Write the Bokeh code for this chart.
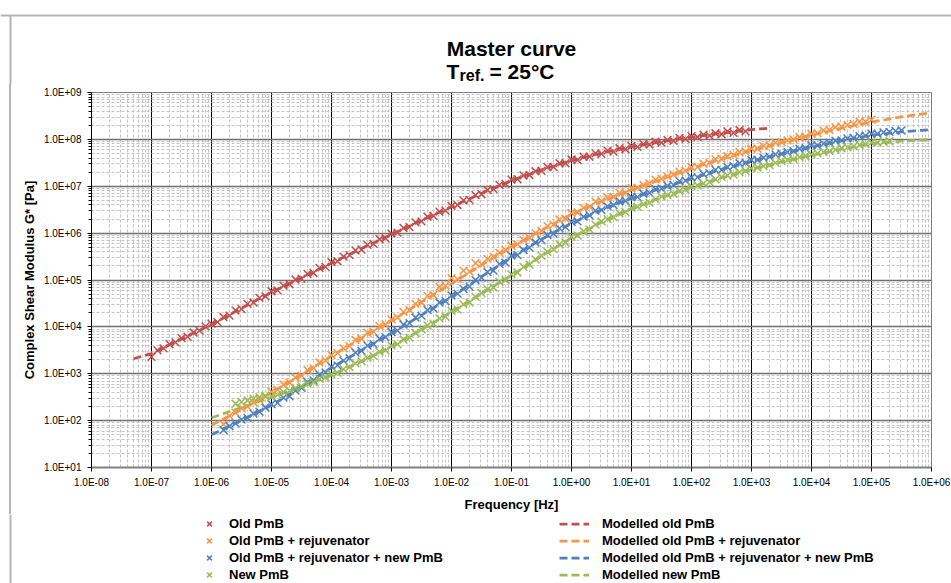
from bokeh.plotting import figure
from bokeh.models import (Range1d, FixedTicker, CustomJSTickFormatter, Legend,
                          LegendItem, Span, Div)
from bokeh.layouts import column, row
from bokeh.core.properties import value
from bokeh.embed import file_html
from bokeh.resources import INLINE

FONT = "Liberation Sans"
TITLE = "Master curve"
SUB_T, SUB_REF, SUB_REST = "T", "ref.", "= 25°C"
X_LABEL = "Frequency [Hz]"
Y_LABEL = "Complex Shear Modulus G* [Pa]"
X_TICK_LABELS = ["1.0E-08", "1.0E-07", "1.0E-06", "1.0E-05", "1.0E-04", "1.0E-03",
                 "1.0E-02", "1.0E-01", "1.0E+00", "1.0E+01", "1.0E+02", "1.0E+03",
                 "1.0E+04", "1.0E+05", "1.0E+06"]
Y_TICK_LABELS = ["1.0E+01", "1.0E+02", "1.0E+03", "1.0E+04", "1.0E+05", "1.0E+06",
                 "1.0E+07", "1.0E+08", "1.0E+09"]
X_EXP0, Y_EXP0 = -8, 1

SERIES_NAMES = ["Old PmB", "Old PmB + rejuvenator", "Old PmB + rejuvenator + new PmB", "New PmB"]
MODEL_NAMES = ["Modelled old PmB", "Modelled old PmB + rejuvenator",
               "Modelled old PmB + rejuvenator + new PmB", "Modelled new PmB"]
COLORS = ["#C0504D", "#F79646", "#4F81BD", "#9BBB59"]

# log10 of frequency [Hz] for measured points
FREQ_LOG = [-7.0, -6.9, -6.8, -6.7, -6.6, -6.5, -6.4, -6.3, -6.2, -6.1,
            -6.0, -5.9, -5.8, -5.7, -5.6, -5.5, -5.4, -5.3, -5.2, -5.1,
            -5.0, -4.9, -4.8, -4.7, -4.6, -4.5, -4.4, -4.3, -4.2, -4.1,
            -4.0, -3.9, -3.8, -3.7, -3.6, -3.5, -3.4, -3.3, -3.2, -3.1,
            -3.0, -2.9, -2.8, -2.7, -2.6, -2.5, -2.4, -2.3, -2.2, -2.1,
            -2.0, -1.9, -1.8, -1.7, -1.6, -1.5, -1.4, -1.3, -1.2, -1.1,
            -1.0, -0.9, -0.8, -0.7, -0.6, -0.5, -0.4, -0.3, -0.2, -0.1,
            0.0, 0.1, 0.2, 0.3, 0.4, 0.5, 0.6, 0.7, 0.8, 0.9,
            1.0, 1.1, 1.2, 1.3, 1.4, 1.5, 1.6, 1.7, 1.8, 1.9,
            2.0, 2.1, 2.2, 2.3, 2.4, 2.5, 2.6, 2.7, 2.8, 2.9,
            3.0, 3.1, 3.2, 3.3, 3.4, 3.5, 3.6, 3.7, 3.8, 3.9,
            4.0, 4.1, 4.2, 4.3, 4.4, 4.5, 4.6, 4.7, 4.8, 4.9,
            5.0, 5.1, 5.2, 5.3, 5.4, 5.5]

# log10 of G* [Pa], measured
OLD_START = -7.0
OLD_G = [3.36, 3.50, 3.54, 3.63, 3.67, 3.76, 3.79, 3.88, 3.92, 4.01,
         4.07, 4.10, 4.21, 4.24, 4.35, 4.38, 4.49, 4.52, 4.62, 4.65,
         4.76, 4.78, 4.88, 4.91, 5.01, 5.03, 5.13, 5.15, 5.26, 5.28,
         5.38, 5.40, 5.50, 5.53, 5.63, 5.65, 5.75, 5.77, 5.87, 5.89,
         5.99, 6.01, 6.11, 6.13, 6.23, 6.25, 6.35, 6.37, 6.46, 6.48,
         6.58, 6.60, 6.70, 6.71, 6.81, 6.83, 6.92, 6.94, 7.03, 7.05,
         7.14, 7.15, 7.23, 7.24, 7.32, 7.33, 7.41, 7.41, 7.49, 7.49,
         7.57, 7.56, 7.63, 7.63, 7.70, 7.69, 7.76, 7.74, 7.81, 7.79,
         7.86, 7.84, 7.90, 7.89, 7.95, 7.93, 7.99, 7.97, 8.03, 8.01,
         8.07, 8.05, 8.10, 8.08, 8.13, 8.11, 8.17, 8.14, 8.20, 8.17]

REJ_START = -5.8
REJ_G = [1.92, 2.10, 2.17, 2.26, 2.30, 2.39, 2.45, 2.52,
         2.62, 2.66, 2.77, 2.81, 2.92, 2.96, 3.08, 3.12, 3.24, 3.28,
         3.40, 3.44, 3.54, 3.59, 3.72, 3.75, 3.87, 3.90, 4.02, 4.05,
         4.16, 4.20, 4.32, 4.36, 4.49, 4.52, 4.66, 4.68, 4.85, 4.88,
         5.04, 5.02, 5.20, 5.18, 5.36, 5.34, 5.45, 5.50, 5.58, 5.64,
         5.73, 5.76, 5.85, 5.90, 6.00, 6.05, 6.15, 6.18, 6.29, 6.31,
         6.43, 6.44, 6.54, 6.56, 6.67, 6.68, 6.76, 6.77, 6.86, 6.86,
         6.96, 6.97, 7.03, 7.06, 7.14, 7.16, 7.21, 7.25, 7.31, 7.33,
         7.41, 7.41, 7.48, 7.50, 7.58, 7.59, 7.64, 7.67, 7.73, 7.74,
         7.80, 7.80, 7.86, 7.87, 7.93, 7.94, 7.98, 8.00, 8.05, 8.06,
         8.12, 8.13, 8.19, 8.20, 8.26, 8.27, 8.31, 8.33, 8.38, 8.38,
         8.42]

MIX_START = -5.8
MIX_G = [1.80, 1.88, 1.94, 2.02, 2.06, 2.15, 2.19, 2.28,
         2.35, 2.38, 2.49, 2.52, 2.64, 2.70, 2.82, 2.86, 2.98, 3.03,
         3.15, 3.18, 3.28, 3.33, 3.45, 3.49, 3.60, 3.63, 3.75, 3.78,
         3.89, 3.92, 4.05, 4.08, 4.20, 4.24, 4.36, 4.39, 4.52, 4.55,
         4.67, 4.71, 4.81, 4.86, 5.00, 5.05, 5.17, 5.20, 5.34, 5.37,
         5.52, 5.53, 5.64, 5.69, 5.80, 5.85, 5.96, 5.99, 6.10, 6.13,
         6.24, 6.25, 6.35, 6.38, 6.48, 6.49, 6.57, 6.60, 6.68, 6.69,
         6.77, 6.77, 6.84, 6.86, 6.94, 6.95, 7.01, 7.03, 7.11, 7.12,
         7.19, 7.19, 7.26, 7.28, 7.35, 7.35, 7.41, 7.43, 7.49, 7.50,
         7.56, 7.56, 7.61, 7.63, 7.68, 7.69, 7.73, 7.75, 7.80, 7.81,
         7.87, 7.87, 7.91, 7.93, 7.97, 7.98, 8.02, 8.03, 8.07, 8.08,
         8.12, 8.12, 8.15, 8.16, 8.18, 8.19]

NEW_START = -5.6
NEW_G = [2.36, 2.40, 2.43, 2.47, 2.50, 2.52,
         2.53, 2.55, 2.61, 2.64, 2.70, 2.73, 2.79, 2.82, 2.89, 2.92,
         2.99, 3.02, 3.10, 3.14, 3.22, 3.27, 3.34, 3.38, 3.47, 3.50,
         3.60, 3.63, 3.73, 3.77, 3.87, 3.95, 4.03, 4.07, 4.18, 4.22,
         4.34, 4.37, 4.48, 4.52, 4.64, 4.72, 4.80, 4.84, 4.96, 5.00,
         5.12, 5.16, 5.28, 5.33, 5.44, 5.52, 5.60, 5.66, 5.76, 5.80,
         5.92, 5.95, 6.04, 6.08, 6.18, 6.25, 6.30, 6.34, 6.42, 6.45,
         6.54, 6.56, 6.62, 6.65, 6.72, 6.78, 6.81, 6.84, 6.90, 6.93,
         7.00, 7.02, 7.06, 7.09, 7.15, 7.20, 7.23, 7.25, 7.30, 7.33,
         7.38, 7.40, 7.43, 7.45, 7.50, 7.54, 7.56, 7.58, 7.62, 7.64,
         7.68, 7.70, 7.73, 7.75, 7.78, 7.81, 7.83, 7.85, 7.88, 7.90,
         7.93, 7.93, 7.95, 7.96]

# model curves (log10 f, log10 G*)
OLD_MODEL_F = [-7.3, -7.0, -6.5, -6.0, -5.5, -5.0, -4.5, -4.0, -3.5, -3.0, -2.5, -2.0,
               -1.5, -1.0, -0.5, 0.0, 0.5, 1.0, 1.5, 2.0, 2.5, 3.0, 3.33]
OLD_MODEL_G = [3.32, 3.43, 3.74, 4.05, 4.40, 4.74, 5.05, 5.36, 5.67, 5.97, 6.27, 6.56,
               6.85, 7.12, 7.35, 7.55, 7.71, 7.84, 7.95, 8.05, 8.13, 8.21, 8.24]
MODEL_F = [-6.0, -5.5, -5.0, -4.5, -4.0, -3.5, -3.0, -2.5, -2.0, -1.5, -1.0, -0.5, 0.0,
           0.5, 1.0, 1.5, 2.0, 2.5, 3.0, 3.5, 4.0, 4.5, 5.0, 5.5, 6.0]
REJ_MODEL_G = [1.90, 2.24, 2.60, 2.98, 3.38, 3.76, 4.13, 4.53, 4.92, 5.32, 5.70, 6.06, 6.40,
               6.68, 6.92, 7.15, 7.38, 7.58, 7.76, 7.93, 8.09, 8.24, 8.37, 8.48, 8.57]
MIX_MODEL_G = [1.70, 2.01, 2.33, 2.72, 3.13, 3.50, 3.86, 4.25, 4.64, 5.07, 5.49, 5.87, 6.21,
               6.50, 6.74, 6.96, 7.16, 7.36, 7.53, 7.69, 7.84, 7.97, 8.09, 8.16, 8.21]
NEW_MODEL_G = [2.06, 2.28, 2.50, 2.72, 2.97, 3.26, 3.58, 3.94, 4.32, 4.71, 5.10, 5.51, 5.90,
               6.23, 6.52, 6.76, 6.98, 7.18, 7.36, 7.52, 7.66, 7.79, 7.91, 7.96, 8.00]

BORDER = "#b4b4b4"
MARKER_SIZE = 11
MARKER_LW = 1.5
DASH = "8 4"


def measured(start, values):
    i0 = FREQ_LOG.index(start)
    fl = FREQ_LOG[i0:i0 + len(values)]
    return [10 ** f for f in fl], [10 ** g for g in values]


def blank(w, h):
    f = figure(width=w, height=h, x_range=Range1d(0, w), y_range=Range1d(h, 0),
               x_axis_type=None, y_axis_type=None, output_backend="svg",
               toolbar_location=None, min_border=0)
    f.grid.visible = False
    f.outline_line_color = None
    f.background_fill_color = "white"
    f.border_fill_color = "white"
    return f


W = 951
HEAD_H, MAIN_H, FOOT_H = 84, 430, 69
STRIP_W = 12

# ---------- head (title) ----------
head = blank(W, HEAD_H)
head.add_layout(Span(location=15, dimension="width", line_color=BORDER, line_width=2))
head.segment(x0=[10], y0=[15], x1=[10], y1=[HEAD_H], line_color=BORDER, line_width=2)
tkw = dict(text_font=value(FONT), text_font_style="bold", text_color="black",
           text_baseline="alphabetic")
head.text(x=[511], y=[48], text=[TITLE], text_align="center", text_font_size="21px", **tkw)
head.text(x=[446], y=[71], text=[SUB_T], text_align="left", text_font_size="21px", **tkw)
head.text(x=[459], y=[75], text=[SUB_REF], text_align="left", text_font_size="16px", **tkw)
head.text(x=[489], y=[71], text=[SUB_REST], text_align="left", text_font_size="21px", **tkw)

# ---------- strip (left border) ----------
strip = Div(text=('<div style="margin-left:9px;width:2px;height:%dpx;background:%s;"></div>'
                  % (MAIN_H, BORDER)),
            width=STRIP_W, height=MAIN_H, margin=0,
            stylesheets=[":host { background: linear-gradient(to right, #ffffff 9px, "
                         "#b4b4b4 9px, #b4b4b4 11px, #ffffff 11px); overflow: hidden; }"])

# ---------- main plot ----------
p = figure(width=W - STRIP_W, height=MAIN_H, x_axis_type="log", y_axis_type="log",
           x_range=Range1d(1e-8, 1e6), y_range=Range1d(1e1, 1e9),
           output_backend="svg", toolbar_location=None,
           min_border_left=91 - STRIP_W, min_border_right=20, min_border_top=8,
           min_border_bottom=47)
p.background_fill_color = "white"
p.border_fill_color = "white"
p.outline_line_color = "#808080"
p.outline_line_width = 1

xmaj = [10.0 ** (X_EXP0 + i) for i in range(len(X_TICK_LABELS))]
ymaj = [10.0 ** (Y_EXP0 + i) for i in range(len(Y_TICK_LABELS))]
xmin = [m * 10.0 ** e for e in range(-8, 6) for m in range(2, 10)]
ymin = [m * 10.0 ** e for e in range(1, 9) for m in range(2, 10)]
p.xaxis.ticker = FixedTicker(ticks=xmaj, minor_ticks=xmin)
p.yaxis.ticker = FixedTicker(ticks=ymaj, minor_ticks=ymin)
fmt_code = "const e = Math.round(Math.log10(tick)); return labels[e - e0];"
p.xaxis.formatter = CustomJSTickFormatter(args=dict(labels=X_TICK_LABELS, e0=X_EXP0), code=fmt_code)
p.yaxis.formatter = CustomJSTickFormatter(args=dict(labels=Y_TICK_LABELS, e0=Y_EXP0), code=fmt_code)

for ax in (p.xaxis, p.yaxis):
    ax.major_label_text_font = FONT
    ax.major_label_text_font_size = "10px"
    ax.major_label_text_color = "black"
    ax.axis_label_text_font = FONT
    ax.axis_label_text_font_size = "13px"
    ax.axis_label_text_font_style = "bold"
    ax.axis_label_text_color = "black"
    ax.major_tick_line_color = "black"
    ax.minor_tick_line_color = "black"
p.xaxis.axis_label = X_LABEL
p.yaxis.axis_label = Y_LABEL
p.xaxis.axis_line_color = "#808080"
p.xaxis.axis_line_width = 2
p.xaxis.major_tick_out = 4
p.xaxis.major_tick_in = 0
p.xaxis.minor_tick_out = 0
p.xaxis.minor_tick_in = 0
p.xaxis.major_label_standoff = 5
p.xaxis.axis_label_standoff = 6
p.yaxis.axis_line_color = "black"
p.yaxis.axis_line_width = 1
p.yaxis.major_tick_out = 4
p.yaxis.major_tick_in = 0
p.yaxis.minor_tick_out = 3
p.yaxis.minor_tick_in = 0
p.yaxis.major_label_standoff = 6
p.yaxis.axis_label_standoff = 4

p.xgrid.grid_line_color = "black"
p.xgrid.grid_line_width = 1
p.ygrid.grid_line_color = "#707070"
p.ygrid.grid_line_width = 1.6
for g in (p.xgrid, p.ygrid):
    g.minor_grid_line_color = "#c4c4c4"
    g.minor_grid_line_width = 1
    g.minor_grid_line_dash = "3 2"

# models (drawn first, markers on top)
models = [(OLD_MODEL_F, OLD_MODEL_G), (MODEL_F, REJ_MODEL_G), (MODEL_F, MIX_MODEL_G), (MODEL_F, NEW_MODEL_G)]
for (mf, mg), c in zip(models, COLORS):
    p.line([10 ** f for f in mf], [10 ** g for g in mg], line_color=c,
           line_width=2.75, line_dash=DASH)

# measured points
meas = [(OLD_START, OLD_G), (REJ_START, REJ_G), (MIX_START, MIX_G), (NEW_START, NEW_G)]
for (st, vals), c in zip(meas, COLORS):
    fx, gy = measured(st, vals)
    p.scatter(fx, gy, marker="x", size=MARKER_SIZE, line_color=c, line_width=MARKER_LW)

# ---------- foot (legend) ----------
foot = blank(W, FOOT_H)
foot.segment(x0=[10], y0=[0], x1=[10], y1=[FOOT_H], line_color=BORDER, line_width=2)
# legend sample renderers, placed outside the visible area of the legend strip
OFF = [-100, -90]
leg_scat = [foot.scatter(OFF[:1], OFF[:1], marker="x", size=MARKER_SIZE, line_color=c,
                         line_width=MARKER_LW) for c in COLORS]
leg_line = [foot.line(OFF, OFF, line_color=c, line_width=2.75, line_dash=DASH) for c in COLORS]
common = dict(orientation="vertical", glyph_height=17, label_height=17, spacing=0,
              padding=0, margin=0, border_line_color=None, background_fill_alpha=0,
              label_text_font=FONT, label_text_font_size="13px", label_text_font_style="bold",
              label_text_color="black")
leg1 = Legend(items=[LegendItem(label=n, renderers=[r]) for n, r in zip(SERIES_NAMES, leg_scat)],
              location=(199, 0), glyph_width=20, label_standoff=10, **common)
leg2 = Legend(items=[LegendItem(label=n, renderers=[r]) for n, r in zip(MODEL_NAMES, leg_line)],
              location=(559, 0), glyph_width=30, label_standoff=13, **common)
foot.add_layout(leg1)
foot.add_layout(leg2)

layout = column(head, row(strip, p, spacing=0), foot, spacing=0)
open("out.html", "w").write(file_html(layout, INLINE))
